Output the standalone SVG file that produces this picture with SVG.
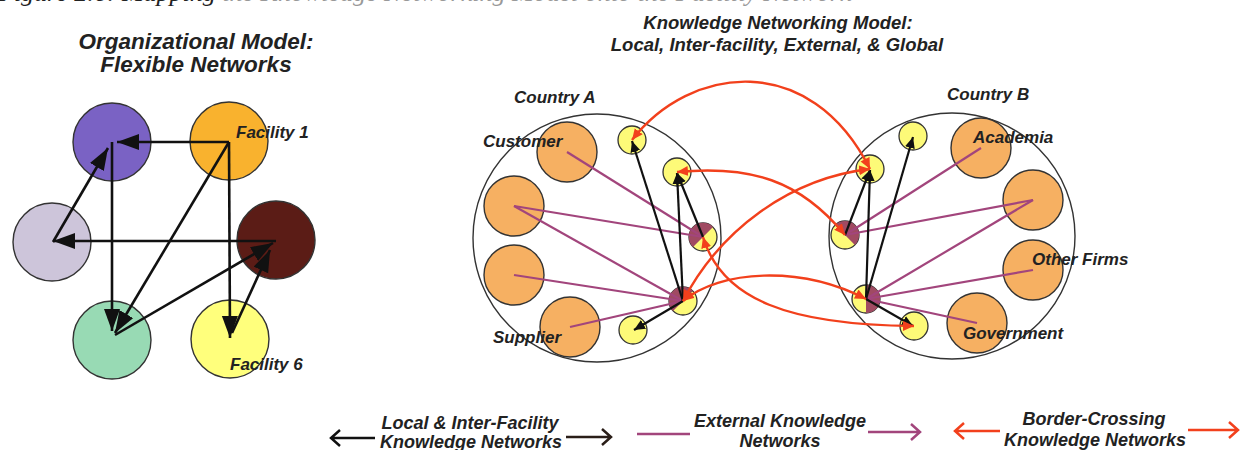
<svg xmlns="http://www.w3.org/2000/svg" width="1248" height="450" viewBox="0 0 1248 450">
  <style>
    .t { font-family: "Liberation Sans", Arial, sans-serif; font-weight: bold; font-style: italic; fill: #222; }
    .title { font-size: 22.5px; text-anchor: middle; }
    .title2 { font-size: 18.5px; text-anchor: middle; }
    .lbl { font-size: 17px; }
    .leg { font-size: 18px; text-anchor: middle; }
    .cap { font-family: "Liberation Serif", "Times New Roman", serif; font-style: italic; font-size: 26px; }
    .big { stroke: #333; stroke-width: 1.4; }
    .org { fill: #f6b062; stroke: #333; stroke-width: 1.4; }
    .sm { fill: #fdfa78; stroke: #333; stroke-width: 1.3; }
    .country { fill: none; stroke: #333; stroke-width: 1.4; }
    .wedge { fill: #a04a62; }
    .blk { stroke: #111; stroke-width: 2.6; fill: none; }
    .blk2 { stroke: #111; stroke-width: 2.2; fill: none; }
    .ext { stroke: #a2457c; stroke-width: 2.2; fill: none; }
    .bc { stroke: #f2401c; stroke-width: 2.4; fill: none; }
  </style>
  <defs>
    <marker id="headBig" markerUnits="userSpaceOnUse" markerWidth="24" markerHeight="18" refX="22" refY="8" orient="auto">
      <path d="M0,0 L22,8 L0,16 Z" fill="#111"/>
    </marker>
    <marker id="headSm" markerUnits="userSpaceOnUse" markerWidth="12" markerHeight="12" refX="11" refY="5" orient="auto">
      <path d="M0,0 L11,5 L0,10 Z" fill="#111"/>
    </marker>
    <marker id="headRed" markerUnits="userSpaceOnUse" markerWidth="12" markerHeight="12" refX="11" refY="5" orient="auto-start-reverse">
      <path d="M0,0 L11,5 L0,10 Z" fill="#f2401c"/>
    </marker>
  </defs>

  <!-- caption line running off the top edge -->
  <text class="cap" x="-2" y="1"><tspan fill="#222">Figure 2.6: Mapping</tspan><tspan fill="#999"> the Knowledge Networking Model onto the Facility Network</tspan></text>

  <!-- left panel titles -->
  <text class="t title" x="196" y="49">Organizational Model:</text>
  <text class="t title" x="196" y="72">Flexible Networks</text>

  <!-- right panel titles -->
  <text class="t title2" x="778" y="29">Knowledge Networking Model:</text>
  <text class="t title2" x="777" y="51">Local, Inter-facility, External, &amp; Global</text>

  <!-- facility nodes -->
  <g id="fac-purple"><circle class="big" cx="112" cy="142" r="39" fill="#7a62c4"/></g>
  <g id="fac-1"><circle class="big" cx="229" cy="141" r="39" fill="#f9b22e"/></g>
  <g id="fac-lavender"><circle class="big" cx="52" cy="242" r="39" fill="#cdc5da"/></g>
  <g id="fac-brown"><circle class="big" cx="276" cy="240" r="39" fill="#5b1c16"/></g>
  <g id="fac-green"><circle class="big" cx="112" cy="340" r="39" fill="#98dab4"/></g>
  <g id="fac-6"><circle class="big" cx="230" cy="339" r="39" fill="#ffff7c"/></g>

  <!-- facility connectors -->
  <g id="facility-links">
    <line class="blk" x1="229" y1="142" x2="117" y2="142" marker-end="url(#headBig)"/>
    <line class="blk" x1="229" y1="142" x2="230" y2="338" marker-end="url(#headBig)"/>
    <line class="blk" x1="229" y1="142" x2="115" y2="333" marker-end="url(#headBig)"/>
    <line class="blk" x1="112" y1="142" x2="112" y2="331" marker-end="url(#headBig)"/>
    <line class="blk" x1="53" y1="242" x2="108" y2="148" marker-end="url(#headBig)"/>
    <line class="blk" x1="276" y1="241" x2="53" y2="241" marker-end="url(#headBig)"/>
    <line class="blk" x1="115" y1="335" x2="273" y2="243" marker-end="url(#headBig)"/>
    <line class="blk" x1="232" y1="333" x2="270" y2="250" marker-end="url(#headBig)"/>
  </g>

  <text class="t lbl" x="236" y="138">Facility 1</text>
  <text class="t lbl" x="230" y="370">Facility 6</text>

  <!-- country A -->
  <g id="country-a">
    <circle class="country" cx="597" cy="238" r="124"/>
    <text class="t lbl" x="514" y="103">Country A</text>
  </g>
  <g id="customer"><circle class="org" cx="567" cy="152" r="30"/></g>
  <g id="a-ext2"><circle class="org" cx="514" cy="206" r="30"/></g>
  <g id="a-ext3"><circle class="org" cx="514" cy="275" r="30"/></g>
  <g id="supplier"><circle class="org" cx="570" cy="327" r="30"/></g>

  <g id="a1"><circle class="sm" cx="632" cy="140" r="14"/></g>
  <g id="a2"><circle class="sm" cx="677" cy="172" r="14"/></g>
  <g id="a3"><circle class="sm" cx="703" cy="237" r="14"/><path class="wedge" d="M703,237 L713,227 A14,14 0 0 0 693,247 Z"/></g>
  <g id="a4"><circle class="sm" cx="683" cy="301" r="14"/><path class="wedge" d="M683,301 L693,291 A14,14 0 0 0 673,311 Z"/></g>
  <g id="a5"><circle class="sm" cx="633" cy="330" r="14"/></g>

  <!-- country B -->
  <g id="country-b">
    <circle class="country" cx="952" cy="236" r="123"/>
    <text class="t lbl" x="947" y="100">Country B</text>
  </g>
  <g id="academia"><circle class="org" cx="981" cy="148" r="30"/></g>
  <g id="b-ext2"><circle class="org" cx="1033" cy="200" r="30"/></g>
  <g id="other-firms"><circle class="org" cx="1033" cy="270" r="30"/></g>
  <g id="government"><circle class="org" cx="977" cy="323" r="30"/></g>

  <g id="b1"><circle class="sm" cx="913" cy="136" r="14"/></g>
  <g id="b2"><circle class="sm" cx="870" cy="169" r="14"/></g>
  <g id="b3"><circle class="sm" cx="845" cy="235" r="14"/><path class="wedge" d="M845,235 L835.1,225.1 A14,14 0 0 1 854.9,244.9 Z"/></g>
  <g id="b4"><circle class="sm" cx="866" cy="299" r="14"/><path class="wedge" d="M866,299 L866,285 A14,14 0 0 1 866,313 Z"/></g>
  <g id="b5"><circle class="sm" cx="914" cy="326" r="14"/></g>

  <!-- knowledge network connectors -->
  <g id="connectors">
    <!-- external -->
    <line class="ext" x1="567" y1="152" x2="703" y2="237"/>
    <line class="ext" x1="514" y1="206" x2="703" y2="237"/>
    <line class="ext" x1="514" y1="206" x2="683" y2="301"/>
    <line class="ext" x1="514" y1="275" x2="683" y2="301"/>
    <line class="ext" x1="570" y1="327" x2="683" y2="301"/>
    <line class="ext" x1="981" y1="148" x2="845" y2="235"/>
    <line class="ext" x1="1033" y1="200" x2="845" y2="235"/>
    <line class="ext" x1="1033" y1="200" x2="866" y2="299"/>
    <line class="ext" x1="1033" y1="270" x2="866" y2="299"/>
    <line class="ext" x1="977" y1="323" x2="866" y2="299"/>
    <!-- local & inter-facility -->
    <line class="blk2" x1="683" y1="301" x2="632" y2="141" marker-end="url(#headSm)"/>
    <line class="blk2" x1="683" y1="301" x2="677" y2="173" marker-end="url(#headSm)"/>
    <line class="blk2" x1="703" y1="237" x2="677" y2="173" marker-end="url(#headSm)"/>
    <line class="blk2" x1="683" y1="301" x2="634" y2="330" marker-end="url(#headSm)"/>
    <line class="blk2" x1="866" y1="299" x2="870" y2="170" marker-end="url(#headSm)"/>
    <line class="blk2" x1="845" y1="235" x2="870" y2="170" marker-end="url(#headSm)"/>
    <line class="blk2" x1="866" y1="299" x2="913" y2="137" marker-end="url(#headSm)"/>
    <line class="blk2" x1="866" y1="299" x2="913" y2="326" marker-end="url(#headSm)"/>
    <!-- border-crossing -->
    <path class="bc" d="M632,140 C690,65 810,50 870,169" marker-start="url(#headRed)" marker-end="url(#headRed)"/>
    <path class="bc" d="M677,172 C750,165 800,180 845,235" marker-start="url(#headRed)" marker-end="url(#headRed)"/>
    <path class="bc" d="M683,301 C720,230 790,178 870,169" marker-start="url(#headRed)" marker-end="url(#headRed)"/>
    <path class="bc" d="M703,237 C722,300 790,325 914,326" marker-start="url(#headRed)" marker-end="url(#headRed)"/>
    <path class="bc" d="M683,301 C720,270 800,265 866,299" marker-start="url(#headRed)" marker-end="url(#headRed)"/>
  </g>

  <!-- node labels -->
  <text class="t lbl" x="483" y="147">Customer</text>
  <text class="t lbl" x="493" y="343">Supplier</text>
  <text class="t lbl" x="973" y="143">Academia</text>
  <text class="t lbl" x="1032" y="265">Other Firms</text>
  <text class="t lbl" x="963" y="339">Government</text>

  <!-- legend -->
  <g id="legend">
    <path d="M375,438 L331,438 M340,430 L331,438 L340,446" stroke="#111" stroke-width="2.5" fill="none"/>
    <text class="t leg" x="470" y="429">Local &amp; Inter-Facility</text>
    <text class="t leg" x="471" y="448">Knowledge Networks</text>
    <path d="M566,437 L611,437 M602,429 L611,437 L602,445" stroke="#2a1e18" stroke-width="2.5" fill="none"/>

    <path d="M637,434 L690,434" stroke="#a2457c" stroke-width="2.5" fill="none"/>
    <text class="t leg" x="780" y="427">External Knowledge</text>
    <text class="t leg" x="780" y="447">Networks</text>
    <path d="M868,432 L920,432 M911,424 L920,432 L911,440" stroke="#a2457c" stroke-width="2.5" fill="none"/>

    <path d="M1000,431 L955,431 M964,423 L955,431 L964,439" stroke="#f2401c" stroke-width="2.5" fill="none"/>
    <text class="t leg" x="1094" y="425">Border-Crossing</text>
    <text class="t leg" x="1095" y="446">Knowledge Networks</text>
    <path d="M1188,430 L1238,430 M1229,422 L1238,430 L1229,438" stroke="#f2401c" stroke-width="2.5" fill="none"/>
  </g>
</svg>
